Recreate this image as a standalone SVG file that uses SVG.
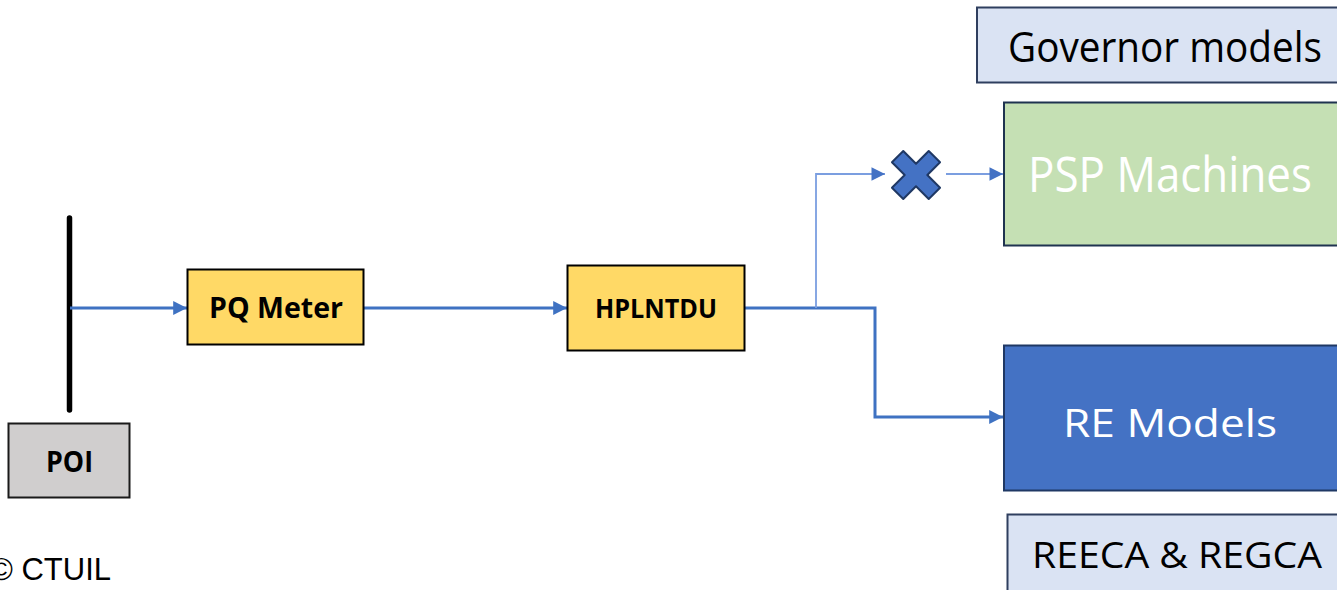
<svg xmlns="http://www.w3.org/2000/svg" width="1337" height="590" viewBox="0 0 1337 590">
<style>
.lbl{font-family:"Open Sans","Noto Sans",sans-serif;text-anchor:middle}
.bold{font-weight:bold;fill:#000}
.wire{fill:none;stroke:#3f72c2;stroke-width:3}
.thin{fill:none;stroke:#7b9ee0;stroke-width:1.8}
</style>
<defs>
<marker id="ah" viewBox="0 0 10 10" refX="10" refY="5" markerWidth="5.2" markerHeight="4.6" markerUnits="strokeWidth" orient="auto">
<path d="M0,0 L10,5 L0,10 z" fill="#3f72c2"/>
</marker>
<marker id="ah2" viewBox="0 0 10 10" refX="10" refY="5" markerWidth="8.5" markerHeight="7.5" markerUnits="strokeWidth" orient="auto">
<path d="M0,0 L10,5 L0,10 z" fill="#4472c4"/>
</marker>
</defs>
<rect width="1337" height="590" fill="#fff"/>

<g id="bus">
<line x1="69.5" y1="218" x2="69.5" y2="410" stroke="#000" stroke-width="5.5" stroke-linecap="round"/>
</g>

<g id="connectors">
<line class="wire" x1="70" y1="308" x2="187" y2="308" marker-end="url(#ah)"/>
<line class="wire" x1="364" y1="308" x2="567" y2="308" marker-end="url(#ah)"/>
<polyline class="wire" points="745,308 875,308 875,417 1003,417" marker-end="url(#ah)"/>
<polyline class="thin" points="816,308 816,174 885,174" marker-end="url(#ah2)"/>
<line class="thin" x1="946" y1="174" x2="1003" y2="174" stroke-width="2.2" stroke="#4472c4" marker-end="url(#ah2)"/>
</g>

<g id="poi">
<rect x="8.5" y="423.5" width="121" height="74" fill="#d0cece" stroke="#1a1a1a" stroke-width="2"/>
<text class="lbl bold" x="69.5" y="472" font-size="28" textLength="47" lengthAdjust="spacingAndGlyphs">POI</text>
</g>

<g id="pq-meter">
<rect x="187.5" y="269.5" width="176" height="75" fill="#ffd966" stroke="#000" stroke-width="2"/>
<text class="lbl bold" x="276" y="318" font-size="28" textLength="134" lengthAdjust="spacingAndGlyphs">PQ Meter</text>
</g>

<g id="hplntdu">
<rect x="567.5" y="265.5" width="177" height="85" fill="#ffd966" stroke="#000" stroke-width="2"/>
<text class="lbl bold" x="656" y="318" font-size="26.5" textLength="122" lengthAdjust="spacingAndGlyphs">HPLNTDU</text>
</g>

<g id="switch-x">
<polygon transform="translate(916,175) rotate(45)" points="-8,-26 8,-26 8,-8 26,-8 26,8 8,8 8,26 -8,26 -8,8 -26,8 -26,-8 -8,-8" fill="#4472c4" stroke="#1f3864" stroke-width="2" stroke-linejoin="round"/>
</g>

<g id="governor-models">
<rect x="977" y="7.5" width="365" height="75" fill="#dae3f3" stroke="#2f3f5f" stroke-width="2"/>
<text class="lbl" x="1165" y="62" font-size="42" fill="#000" textLength="314" lengthAdjust="spacingAndGlyphs">Governor models</text>
</g>

<g id="psp-machines">
<rect x="1004" y="102.5" width="338" height="143" fill="#c5e0b4" stroke="#1f3350" stroke-width="2"/>
<text class="lbl" x="1170" y="192" font-size="49" fill="#fff" textLength="284" lengthAdjust="spacingAndGlyphs">PSP Machines</text>
</g>

<g id="re-models">
<rect x="1004" y="345.5" width="338" height="145" fill="#4472c4" stroke="#1f3864" stroke-width="2"/>
<text class="lbl" x="1170" y="437" font-size="39" fill="#fff" textLength="214" lengthAdjust="spacingAndGlyphs">RE Models</text>
</g>

<g id="reeca-regca">
<rect x="1007.5" y="514.5" width="334" height="90" fill="#dae3f3" stroke="#2f3f5f" stroke-width="2"/>
<text class="lbl" x="1177" y="568" font-size="36" fill="#000" textLength="290" lengthAdjust="spacingAndGlyphs">REECA &amp; REGCA</text>
</g>

<text x="-10" y="580" font-family="'Liberation Sans',Arial,sans-serif" font-size="31" fill="#000">© CTUIL</text>
</svg>
